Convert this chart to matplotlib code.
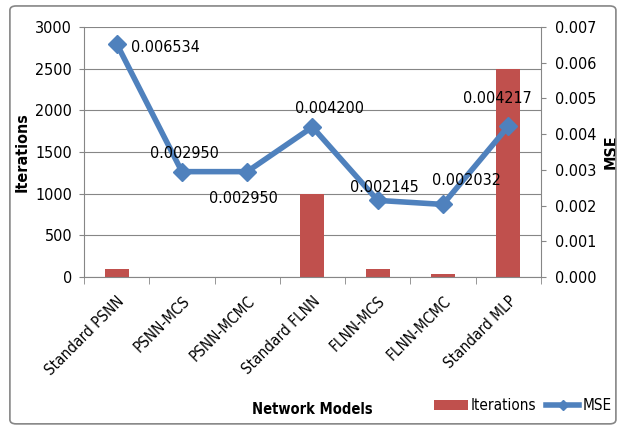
import matplotlib.pyplot as plt
from matplotlib.patches import FancyBboxPatch

models = ["Standard PSNN", "PSNN-MCS", "PSNN-MCMC", "Standard FLNN",
          "FLNN-MCS", "FLNN-MCMC", "Standard MLP"]
iterations = [90, 5, 5, 1000, 90, 30, 2500]
mse = [0.006534, 0.002950, 0.002950, 0.004200, 0.002145, 0.002032, 0.004217]
mse_labels = ["0.006534", "0.002950", "0.002950", "0.004200",
              "0.002145", "0.002032", "0.004217"]

plt.rcParams['font.family'] = ['DejaVu Sans']
plt.rcParams['font.stretch'] = 'condensed'

fig = plt.figure(figsize=(6.19, 4.26), dpi=100)
fig.patches.append(FancyBboxPatch((0.016, 0.005), 0.979, 0.981,
                                  boxstyle="round,pad=0,rounding_size=0.01",
                                  transform=fig.transFigure, fill=False,
                                  edgecolor='#868686', linewidth=1.2))

ax = fig.add_axes([0.1357, 0.3498, 0.738, 0.5868])
x = range(len(models))
ax.bar(x, iterations, width=0.367, color='#C0504D', label='Iterations', zorder=2)
ax.set_ylim(0, 3000)
ax.set_yticks(range(0, 3001, 500))
ax.set_xlim(-0.5, len(models) - 0.5)
ax.set_xticks(list(x))
ax.set_xticklabels(models, rotation=45, ha='right', rotation_mode='anchor', fontsize=11)
ax.set_xticks([i - 0.5 for i in range(len(models) + 1)], minor=True)
ax.tick_params(axis='x', which='major', length=0, pad=12)
ax.tick_params(axis='x', which='minor', length=5, color='#868686')
ax.tick_params(axis='y', labelsize=11.5, color='#868686', pad=5)
ax.grid(axis='y', color='#868686', linewidth=0.8, zorder=0)
ax.set_axisbelow(True)
for s in ['top', 'right']:
    ax.spines[s].set_visible(False)
for s in ['left', 'bottom']:
    ax.spines[s].set_color('#868686')
ax.set_ylabel('Iterations', fontsize=11.5, fontweight='bold', labelpad=4)
ax.set_xlabel('Network Models', fontsize=10.5, fontweight='bold')
ax.xaxis.set_label_coords(0.50, -0.5)

ax2 = ax.twinx()
ax2.plot(list(x), mse, color='#4F81BD', linewidth=4, marker='D', markersize=9,
         label='MSE', zorder=3)
ax2.set_ylim(0, 0.007)
ax2.set_yticks([i * 0.001 for i in range(8)])
ax2.set_yticklabels(["%.3f" % (i * 0.001) for i in range(8)])
ax2.tick_params(axis='y', labelsize=11.5, color='#868686', pad=7)
for s in ['top', 'left', 'bottom']:
    ax2.spines[s].set_visible(False)
ax2.spines['right'].set_color('#868686')
ax2.set_ylabel('MSE', fontsize=11.5, fontweight='bold', labelpad=5)

# label offsets in points (centre of text relative to the point)
offsets = [(35, -3), (2, 13), (-3, -19), (12, 13), (5, 9), (17, 17), (-8, 20)]
for i, (v, lab) in enumerate(zip(mse, mse_labels)):
    ax2.annotate(lab, (i, v), xytext=offsets[i], textcoords='offset points',
                 fontsize=11.5, ha='center', va='center')

h1, l1 = ax.get_legend_handles_labels()
h2, l2 = ax2.get_legend_handles_labels()
fig.legend(h1 + h2, l1 + l2, loc='center', bbox_to_anchor=(0.845, 0.047), ncol=2,
           frameon=False, fontsize=11, handlelength=2.2, columnspacing=0.6,
           handletextpad=0.2, markerscale=0.6)

fig.savefig('out.png', dpi=100)
